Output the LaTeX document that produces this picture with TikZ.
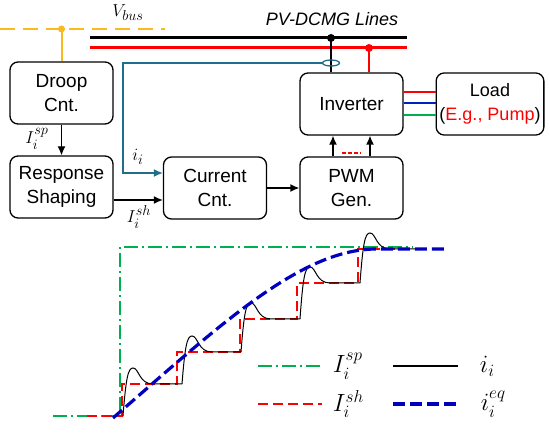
\documentclass[tikz,border=0pt]{standalone}
\usepackage{amsmath}
\usepackage{fontspec}
\setmainfont{Liberation Sans}
\usepackage{tikz}
\usetikzlibrary{calc, arrows.meta, shapes.geometric}

\definecolor{busorange}{RGB}{250,185,30}
\definecolor{fbteal}{RGB}{30,110,140}
\definecolor{lgreen}{RGB}{0,176,80}
\definecolor{lblue}{RGB}{0,32,192}
\definecolor{pblue}{RGB}{0,0,190}

\begin{document}
\begin{tikzpicture}[x=1pt, y=-1pt, >={Latex[length=9pt,width=8pt]},
    blk/.style={draw, line width=1.3pt, rounded corners=8pt, minimum width=103pt,
        minimum height=62pt, align=center, font=\fontsize{19}{24}\selectfont},
    sig/.style={line width=1.3pt, ->},
    lbl/.style={font=\fontsize{19}{22}\selectfont, inner sep=1pt},
    leg/.style={font=\fontsize{26}{30}\selectfont, anchor=west}]
    \useasboundingbox (0,0) rectangle (550,433);

    % Các khối
    \node[blk] (droop) at (61.5,93) {Droop\\Cnt.};
    \node[blk] (resp) at (61.5,187) {Response\\Shaping};
    \node[blk] (cur) at (215,188) {Current\\Cnt.};
    \node[blk] (pwm) at (351.5,188) {PWM\\Gen.};
    \node[blk] (inv) at (351.5,104) {Inverter};
    \node[blk, font=\fontsize{18}{24}\selectfont] (load) at (490,104)
        {Load\\(\textcolor{red}{E.g., Pump})};

    % Đường bus
    \coordinate (vbA) at (0,29);
    \coordinate (vbB) at (165,29);
    \coordinate (vbT) at (61.5,29);
    \draw[busorange, line width=1.3pt, dash pattern=on 15pt off 8pt] (vbA) -- (vbB);
    \fill[busorange] (vbT) circle (3.5pt);
    \draw[busorange, line width=2pt] (vbT) -- (droop.north);
    \node[lbl] (vbus) at (128,13) {$V_{bus}$};

    \coordinate (kA) at (90,38);
    \coordinate (kB) at (407,38);
    \coordinate (rA) at (90,48);
    \coordinate (rB) at (407,48);
    \draw[line width=3pt] (kA) -- (kB);
    \draw[red, line width=3pt] (rA) -- (rB);
    \node[font=\fontsize{18}{20}\selectfont\itshape] (pvl) at (332,19) {PV-DCMG Lines};
    \coordinate (kT) at (331,38);
    \coordinate (rT) at (369,48);
    \fill (kT) circle (4pt);
    \fill[red] (rT) circle (4pt);
    \draw[line width=2.5pt] (kT) -- (inv.north -| kT);
    \draw[red, line width=2.5pt] (rT) -- (inv.north -| rT);

    % Cảm biến dòng và hồi tiếp
    \node[draw=fbteal, line width=1.3pt, ellipse, minimum width=17pt,
        minimum height=6pt, inner sep=0pt] (sensor) at (331,63) {};
    \draw[sig, fbteal] (sensor.west) -| (123,173) -- (cur.west |- 0,173);
    \node[lbl] (ii) at (138,157) {$i_i$};

    % Tín hiệu
    \draw[sig] (droop.south) -- (resp.north);
    \node[lbl] (isp) at (37,139) {$I_i^{sp}$};
    \draw[sig] (resp.east |- 0,200) -- (cur.west |- 0,200);
    \node[lbl] (ish) at (139,217) {$I_i^{sh}$};
    \draw[sig] (cur.east) -- (pwm.west);
    \draw[sig] (pwm.north -| 333,0) -- (inv.south -| 333,0);
    \draw[sig] (pwm.north -| 370,0) -- (inv.south -| 370,0);
    \draw[red, line width=1.3pt, dash pattern=on 4pt off 2pt] (342,153) -- (361,153);

    \draw[red, line width=2.5pt] (inv.east |- 0,92) -- (load.west |- 0,92);
    \draw[lblue, line width=2.5pt] (inv.east |- 0,103) -- (load.west |- 0,103);
    \draw[lgreen, line width=2.5pt] (inv.east |- 0,115) -- (load.west |- 0,115);

    % Đồ thị đáp ứng
    \draw[lgreen, line width=1.3pt, dash pattern=on 14pt off 4pt on 2pt off 4pt]
        (53,416) -- (120,416) -- (120,247) -- (413,247);
    \draw[red, line width=1.3pt, dash pattern=on 10pt off 5pt]
        (87,416) -- (122,416) -- (122,384) -- (177,384) -- (177,352) -- (240,352)
        -- (240,319) -- (297,319) -- (297,283) -- (358,283) -- (358,249) -- (410,249);
    \foreach \xs/\ya/\yb/\xn in {123/416/384/182, 182/384/352/241, 241/352/319/300,
        300/319/283/360, 360/283/249/420} {
        \draw[line width=1pt] (\xs,\ya) .. controls (\xs+3,\yb-6) and (\xs+5,\yb-16)
            .. (\xs+10,\yb-16) .. controls (\xs+16,\yb-16) and (\xs+16,\yb)
            .. (\xs+30,\yb) -- (\xn,\yb);
    }
    \draw[pblue, line width=3.2pt, dash pattern=on 12pt off 5pt]
        (113,418) .. controls (220,325) and (300,250) .. (375,249) -- (444,249);

    % Chú thích
    \coordinate (lg1) at (258,366);
    \coordinate (lg2) at (258,404);
    \draw[lgreen, line width=1.3pt, dash pattern=on 14pt off 4pt on 2pt off 4pt]
        (lg1) -- ++(64,0) node[leg, black] (legsp) {$\;I_i^{sp}$};
    \draw[red, line width=1.3pt, dash pattern=on 10pt off 5pt]
        (lg2) -- ++(64,0) node[leg, black] (legsh) {$\;I_i^{sh}$};
    \coordinate (lg3) at (393,366);
    \coordinate (lg4) at (393,404);
    \draw[line width=1.3pt] (lg3) -- ++(65,0) node[leg] (legi) {$\;\;\,i_i$};
    \draw[pblue, line width=3.2pt, dash pattern=on 12pt off 5pt]
        (lg4) -- ++(65,0) node[leg, black] (legeq) {$\;\;\,i_i^{eq}$};
\end{tikzpicture}
\end{document}
